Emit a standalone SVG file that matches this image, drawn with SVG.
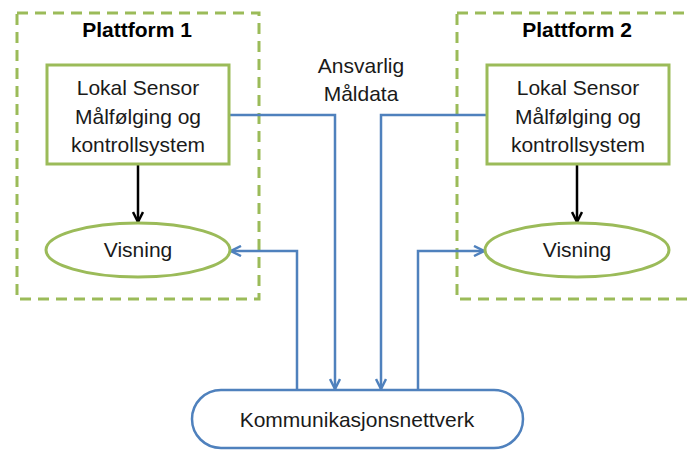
<svg xmlns="http://www.w3.org/2000/svg" width="688" height="450" viewBox="0 0 688 450">
<defs>
<style>
.plat{fill:none;stroke:#9BBB59;stroke-width:3;stroke-dasharray:11,7}
.box{fill:#fff;stroke:#9BBB59;stroke-width:3}
.t{font-family:"Liberation Sans",Arial,sans-serif;font-size:21px;fill:#1a1a1a;text-anchor:middle}
.b{font-weight:bold;fill:#000}
.blue{fill:none;stroke:#4F81BD;stroke-width:2.5}
.blk{fill:none;stroke:#000;stroke-width:2.5}
</style>
<marker id="ab" viewBox="0 0 12 12" refX="11" refY="6" markerWidth="12" markerHeight="12" markerUnits="userSpaceOnUse" orient="auto">
<path d="M1,1 L11,6 L1,11" fill="none" stroke="#4F81BD" stroke-width="2.5"/>
</marker>
<marker id="ak" viewBox="0 0 12 12" refX="11" refY="6" markerWidth="12" markerHeight="12" markerUnits="userSpaceOnUse" orient="auto">
<path d="M1,1 L11,6 L1,11" fill="none" stroke="#000" stroke-width="2.5"/>
</marker>
</defs>
<rect width="688" height="450" fill="#fff"/>
<g id="plattform1">
<rect class="plat" x="17" y="13" width="242" height="286"/>
<text class="t b" x="137" y="37">Plattform 1</text>
</g>
<g id="plattform2">
<rect class="plat" x="457" y="13" width="260" height="286"/>
<text class="t b" x="577" y="37">Plattform 2</text>
</g>
<g id="ansvarlig">
<text class="t" x="361" y="73">Ansvarlig</text>
<text class="t" x="361" y="101">Måldata</text>
</g>
<g id="connectors">
<line class="blk" x1="138" y1="164" x2="138" y2="222" marker-end="url(#ak)"/>
<line class="blk" x1="577" y1="164" x2="577" y2="222" marker-end="url(#ak)"/>
<polyline class="blue" points="229,115 335,115 335,389" marker-end="url(#ab)"/>
<polyline class="blue" points="487,115 381,115 381,389" marker-end="url(#ab)"/>
<polyline class="blue" points="297,390 297,251 231,251" marker-end="url(#ab)"/>
<polyline class="blue" points="418,390 418,251 484,251" marker-end="url(#ab)"/>
</g>
<g id="sensor1">
<rect class="box" x="47" y="65" width="182" height="99"/>
<text class="t" x="138" y="95">Lokal Sensor</text>
<text class="t" x="138" y="124">Målfølging og</text>
<text class="t" x="138" y="152">kontrollsystem</text>
</g>
<g id="sensor2">
<rect class="box" x="487" y="65" width="182" height="99"/>
<text class="t" x="578" y="95">Lokal Sensor</text>
<text class="t" x="578" y="124">Målfølging og</text>
<text class="t" x="578" y="152">kontrollsystem</text>
</g>
<g id="visning1">
<ellipse class="box" cx="138" cy="250" rx="92" ry="27"/>
<text class="t" x="138" y="257">Visning</text>
</g>
<g id="visning2">
<ellipse class="box" cx="577" cy="250" rx="92" ry="27"/>
<text class="t" x="577" y="257">Visning</text>
</g>
<g id="kommunikasjon">
<rect x="192" y="390" width="331" height="58" rx="29" ry="29" fill="#fff" stroke="#4F81BD" stroke-width="2.5"/>
<text class="t" x="357" y="427">Kommunikasjonsnettverk</text>
</g>
</svg>
